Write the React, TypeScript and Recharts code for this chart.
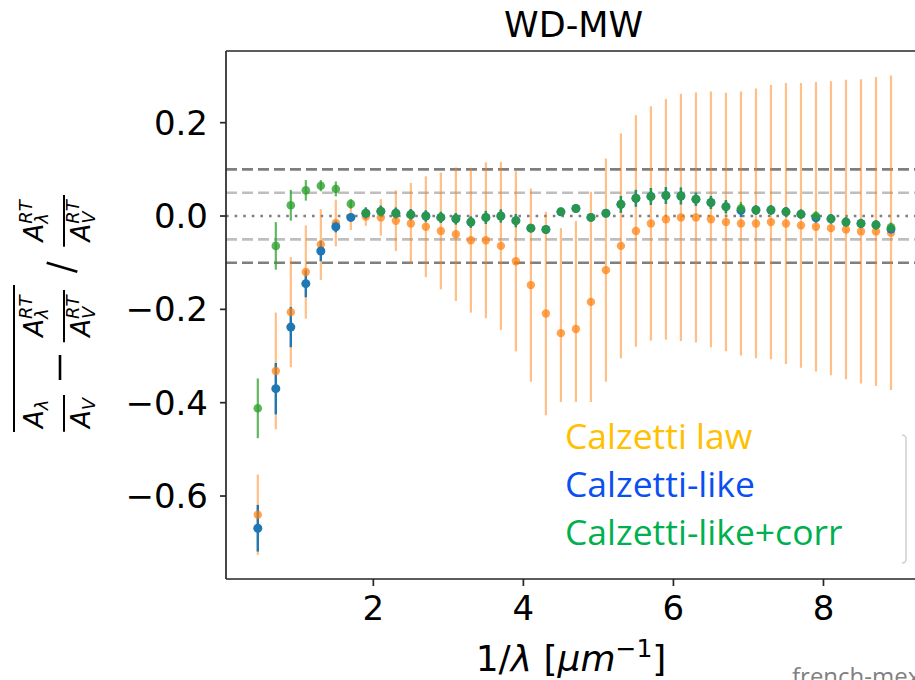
import React from 'react';
import { ScatterChart, Scatter, XAxis, YAxis, ErrorBar, ReferenceLine } from 'recharts';

const xs = [0.46, 0.7, 0.9, 1.1, 1.3, 1.5, 1.7, 1.9, 2.1, 2.3, 2.5, 2.7, 2.9, 3.1, 3.3, 3.5, 3.7, 3.9, 4.1, 4.3, 4.5, 4.7, 4.9, 5.1, 5.3, 5.5, 5.7, 5.9, 6.1, 6.3, 6.5, 6.7, 6.9, 7.1, 7.3, 7.5, 7.7, 7.9, 8.1, 8.3, 8.5, 8.7, 8.9];

const calzettiLaw = [-0.640, -0.332, -0.206, -0.120, -0.061, -0.015, -0.003, -0.001, -0.003, -0.010, -0.016, -0.023, -0.032, -0.039, -0.052, -0.052, -0.064, -0.097, -0.148, -0.209, -0.251, -0.242, -0.184, -0.116, -0.064, -0.032, -0.016, -0.007, -0.003, -0.003, -0.007, -0.013, -0.016, -0.016, -0.013, -0.016, -0.020, -0.023, -0.026, -0.029, -0.033, -0.033, -0.036];
const calzettiLawErr = [0.086, 0.125, 0.118, 0.100, 0.076, 0.050, 0.027, 0.020, 0.039, 0.065, 0.087, 0.108, 0.125, 0.143, 0.155, 0.167, 0.180, 0.193, 0.207, 0.218, 0.225, 0.231, 0.236, 0.239, 0.241, 0.248, 0.251, 0.258, 0.265, 0.268, 0.274, 0.277, 0.283, 0.289, 0.294, 0.301, 0.305, 0.310, 0.315, 0.321, 0.326, 0.331, 0.337];

const calzettiLike = [-0.669, -0.370, -0.238, -0.145, -0.075, -0.023, -0.003, 0.006, 0.010, 0.006, 0.003, 0.000, -0.003, -0.006, -0.013, -0.003, 0.000, -0.010, -0.026, -0.029, 0.009, 0.016, -0.003, 0.006, 0.025, 0.038, 0.042, 0.044, 0.043, 0.036, 0.029, 0.020, 0.012, 0.013, 0.013, 0.009, 0.004, -0.004, -0.006, -0.013, -0.016, -0.019, -0.028];
const calzettiLikeErr = [0.050, 0.055, 0.043, 0.029, 0.022, 0.012, 0.008, 0.012, 0.012, 0.012, 0.012, 0.012, 0.012, 0.012, 0.012, 0.014, 0.014, 0.014, 0.006, 0.006, 0.006, 0.006, 0.006, 0.006, 0.018, 0.018, 0.018, 0.018, 0.018, 0.014, 0.014, 0.014, 0.014, 0.010, 0.010, 0.010, 0.010, 0.010, 0.010, 0.010, 0.010, 0.010, 0.010];

const calzettiCorr = [-0.412, -0.064, 0.023, 0.055, 0.065, 0.058, 0.026, 0.006, 0.010, 0.006, 0.003, 0.000, -0.003, -0.006, -0.013, -0.003, 0.000, -0.010, -0.026, -0.029, 0.009, 0.016, -0.003, 0.006, 0.025, 0.038, 0.042, 0.044, 0.043, 0.036, 0.029, 0.020, 0.016, 0.013, 0.013, 0.009, 0.004, 0.000, -0.006, -0.013, -0.016, -0.019, -0.024];
const calzettiCorrErr = [0.064, 0.051, 0.033, 0.022, 0.012, 0.016, 0.010, 0.012, 0.012, 0.012, 0.012, 0.012, 0.012, 0.012, 0.012, 0.014, 0.014, 0.014, 0.006, 0.006, 0.006, 0.006, 0.006, 0.006, 0.018, 0.018, 0.018, 0.018, 0.018, 0.014, 0.014, 0.014, 0.014, 0.010, 0.010, 0.010, 0.010, 0.010, 0.010, 0.010, 0.010, 0.010, 0.010];

const xTicks = [2, 4, 6, 8];
const yTicks = [-0.6, -0.4, -0.2, 0, 0.2];
const title = 'WD-MW';
const legendLabels = ['Calzetti law', 'Calzetti-like', 'Calzetti-like+corr'];
const legendColors = ['#FFC000', '#0A50F0', '#00B050'];

const build = (ys: number[], errs: number[]) => xs.map((x, i) => ({ x, y: ys[i], err: errs[i] }));
const lawData = build(calzettiLaw, calzettiLawErr);
const likeData = build(calzettiLike, calzettiLikeErr);
const corrData = build(calzettiCorr, calzettiCorrErr);

const dot = (r: number, fill: string) => (props: any) => (
  <circle cx={props.cx} cy={props.cy} r={r} fill={fill} />
);

const fmtY = (v: number) => (v === 0 ? '0.0' : (v < 0 ? '\u2212' : '') + Math.abs(v).toFixed(1));

const MF = 'DejaVu Sans';

const AGroup = ({ u, v, sup, sub }: { u: number; v: number; sup?: string; sub: string }) => (
  <g>
    <text x={u} y={v} fontSize={26} fontStyle="italic" fontFamily={MF}>A</text>
    {sup ? <text x={u + 17.8} y={v - 11} fontSize={18} fontStyle="italic" fontFamily={MF}>{sup}</text> : null}
    <text x={u + 17.8} y={v + 5} fontSize={18} fontStyle="italic" fontFamily={MF}>{sub}</text>
  </g>
);

const Frac = ({ u0, u1, rt }: { u0: number; u1: number; rt: boolean }) => {
  const w = rt ? 41.3 : 29.5;
  const s = u0 + (u1 - u0 - w) / 2;
  return (
    <g>
      <AGroup u={s} v={43} sup={rt ? 'RT' : undefined} sub={'\u03bb'} />
      <line x1={u0} x2={u1} y1={64} y2={64} stroke="#000" strokeWidth={2} />
      <AGroup u={s} v={90} sup={rt ? 'RT' : undefined} sub="V" />
    </g>
  );
};

const YLabel = () => (
  <g transform="rotate(-90)" fill="#000">
    <line x1={-432} x2={-285} y1={14} y2={14} stroke="#000" strokeWidth={2} />
    <Frac u0={-431.7} u1={-395} rt={false} />
    <line x1={-380} x2={-355} y1={60} y2={60} stroke="#000" strokeWidth={2.6} />
    <Frac u0={-342.3} u1={-290} rt={true} />
    <line x1={-262.7} x2={-271.7} y1={46.7} y2={77.3} stroke="#000" strokeWidth={2.6} />
    <Frac u0={-246.7} u1={-195} rt={true} />
  </g>
);

export default function App() {
  const axisStroke = '#262626';
  const tickStyle = { fontSize: 34, fontFamily: 'DejaVu Sans', fill: '#000' };
  return (
    <div style={{ position: 'absolute', top: 0, left: 0, width: 915, height: 680, overflow: 'hidden', background: '#fff' }}>
      <ScatterChart width={940} height={680} margin={{ top: 51, right: 19, bottom: 41, left: 126 }}>
        <XAxis
          type="number"
          dataKey="x"
          domain={[0.036, 9.3]}
          allowDataOverflow
          ticks={xTicks}
          tick={tickStyle}
          tickSize={7}
          tickMargin={10}
          height={60}
          axisLine={{ stroke: axisStroke, strokeWidth: 1.7 }}
          tickLine={{ stroke: axisStroke, strokeWidth: 1.7 }}
        />
        <YAxis
          type="number"
          dataKey="y"
          domain={[-0.7778, 0.3536]}
          allowDataOverflow
          ticks={yTicks}
          tickFormatter={fmtY}
          tick={tickStyle}
          tickSize={6}
          tickMargin={12}
          width={100}
          axisLine={{ stroke: axisStroke, strokeWidth: 1.7 }}
          tickLine={{ stroke: axisStroke, strokeWidth: 1.7 }}
        />
        <ReferenceLine y={0.1} stroke="#7f7f7f" strokeWidth={2.6} strokeDasharray="11 5" />
        <ReferenceLine y={-0.1} stroke="#7f7f7f" strokeWidth={2.6} strokeDasharray="11 5" />
        <ReferenceLine y={0.05} stroke="#bfbfbf" strokeWidth={2.6} strokeDasharray="11 5" />
        <ReferenceLine y={-0.05} stroke="#bfbfbf" strokeWidth={2.6} strokeDasharray="11 5" />
        <ReferenceLine y={0} stroke="#7f7f7f" strokeWidth={2.6} strokeDasharray="2.6 6" />
        <Scatter data={lawData} isAnimationActive={false} shape={dot(4.2, 'rgba(255,127,14,0.72)')}>
          <ErrorBar dataKey="err" direction="y" width={0} stroke="rgba(255,127,14,0.5)" strokeWidth={2.2} />
        </Scatter>
        <Scatter data={likeData} isAnimationActive={false} shape={dot(4.5, '#1f77b4')}>
          <ErrorBar dataKey="err" direction="y" width={0} stroke="#1f77b4" strokeWidth={2.4} />
        </Scatter>
        <Scatter data={corrData} isAnimationActive={false} shape={dot(4.3, 'rgba(44,160,44,0.78)')}>
          <ErrorBar dataKey="err" direction="y" width={0} stroke="rgba(44,160,44,0.75)" strokeWidth={2.2} />
        </Scatter>
      </ScatterChart>
      <svg width={915} height={680} style={{ position: 'absolute', top: 0, left: 0, pointerEvents: 'none' }}>
        <line x1={226} x2={915} y1={51} y2={51} stroke={axisStroke} strokeWidth={1.7} />
        <text x={573.6} y={37} textAnchor="middle" fontSize={35} fontFamily="DejaVu Sans" fill="#000">{title}</text>
        <text x={571} y={671} textAnchor="middle" fontSize={36} fontFamily="DejaVu Sans" fill="#000">
          <tspan>1/</tspan>
          <tspan fontStyle="italic">{'\u03bb'}</tspan>
          <tspan> [</tspan>
          <tspan fontStyle="italic">{'\u03bcm'}</tspan>
          <tspan fontSize={25} dy={-14}>{'\u22121'}</tspan>
          <tspan dy={14}>]</tspan>
        </text>
        <YLabel />
        <rect x={552} y={402} width={353} height={168} fill="#fff" />
        <path d="M 902 435 Q 906 435 906 439 L 906 559 Q 906 563 902 563" stroke="#d0d0d0" strokeWidth={1.5} fill="none" />
        {legendLabels.map((t, i) => (
          <text key={t} x={565} y={449 + i * 48} fontSize={35.5} fontFamily="Open Sans" fill={legendColors[i]}>{t}</text>
        ))}
        <text x={792} y={685} fontSize={24} fontFamily="Open Sans" fill="#808080">french-mex</text>
      </svg>
    </div>
  );
}
